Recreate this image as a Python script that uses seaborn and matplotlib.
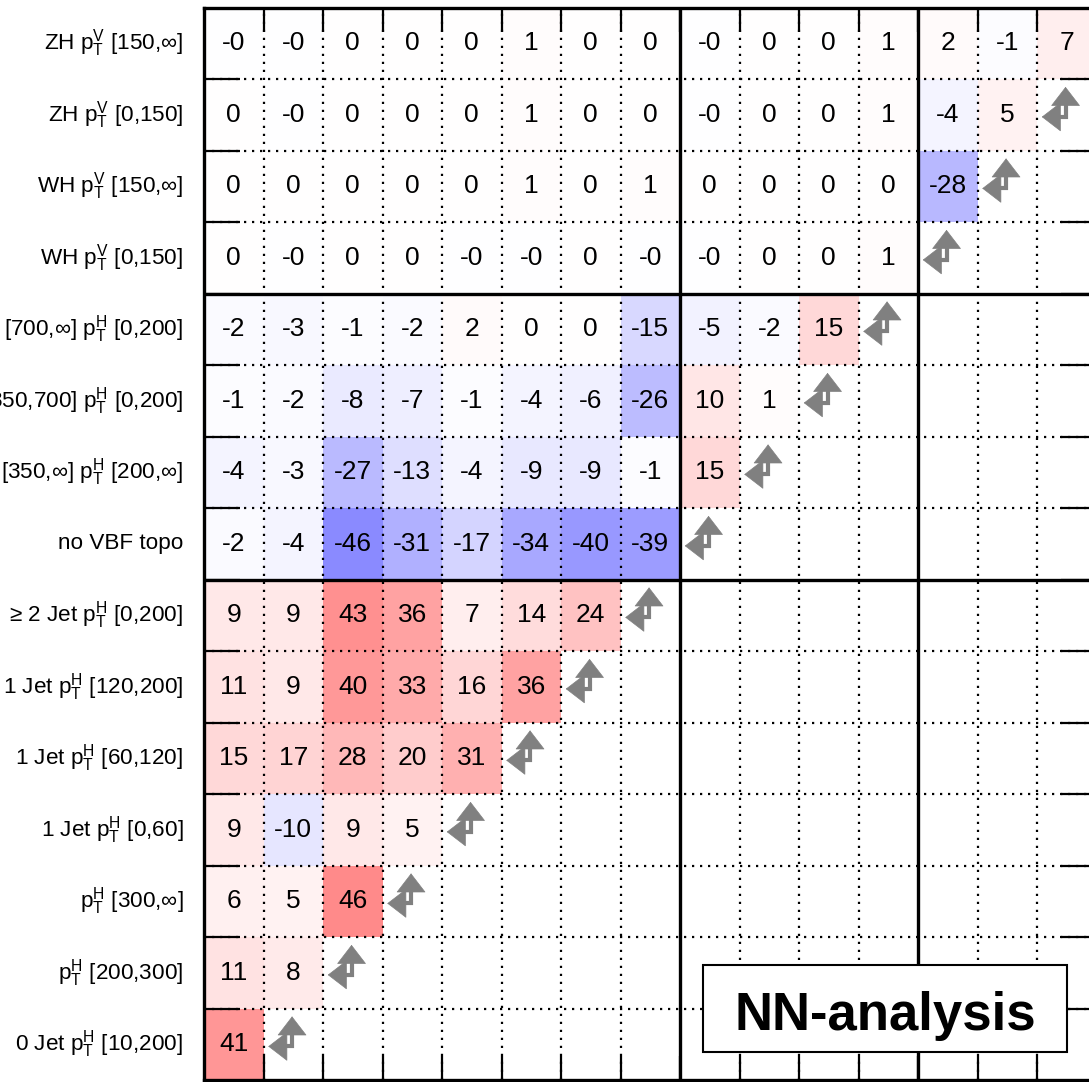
import numpy as np
import pandas as pd
import matplotlib
matplotlib.use("Agg")
import matplotlib.pyplot as plt
from matplotlib.patches import Rectangle
import seaborn as sns

plt.rcParams['font.family'] = ['Liberation Sans', 'DejaVu Sans']
plt.rcParams['mathtext.fontset'] = 'custom'
plt.rcParams['mathtext.rm'] = 'Liberation Sans'
plt.rcParams['mathtext.it'] = 'Liberation Sans:italic'
plt.rcParams['mathtext.bf'] = 'Liberation Sans:bold'
for key in ['text.color', 'axes.labelcolor', 'xtick.color', 'ytick.color', 'axes.edgecolor']:
    plt.rcParams[key] = 'black'

PV = r"$\mathrm{p}_{\mathrm{T}}^{\mathrm{V}}$"
PH = r"$\mathrm{p}_{\mathrm{T}}^{\mathrm{H}}$"

row_labels = [
    f"ZH {PV} [150,∞]",
    f"ZH {PV} [0,150]",
    f"WH {PV} [150,∞]",
    f"WH {PV} [0,150]",
    f"[700,∞] {PH} [0,200]",
    f"[350,700] {PH} [0,200]",
    f"[350,∞] {PH} [200,∞]",
    "no VBF topo",
    f"≥ 2 Jet {PH} [0,200]",
    f"1 Jet {PH} [120,200]",
    f"1 Jet {PH} [60,120]",
    f"1 Jet {PH} [0,60]",
    f"{PH} [300,∞]",
    f"{PH} [200,300]",
    f"0 Jet {PH} [10,200]",
]

row_zh_high = [-0.2, -0.2, 0, 0, 0, 1, 0, 0, -0.2, 0, 0, 1, 2, -1, 7]
row_zh_low = [0, -0.2, 0, 0, 0, 1, 0, 0, -0.2, 0, 0, 1, -4, 5]
row_wh_high = [0, 0, 0, 0, 0, 1, 0, 1, 0, 0, 0, 0, -28]
row_wh_low = [0, -0.2, 0, 0, -0.2, -0.2, 0, -0.2, -0.2, 0, 0, 1]
row_vbf_700 = [-2, -3, -1, -2, 2, 0, 0, -15, -5, -2, 15]
row_vbf_350 = [-1, -2, -8, -7, -1, -4, -6, -26, 10, 1]
row_vbf_hpt = [-4, -3, -27, -13, -4, -9, -9, -1, 15]
row_novbf = [-2, -4, -46, -31, -17, -34, -40, -39]
row_2jet = [9, 9, 43, 36, 7, 14, 24]
row_1jet_120 = [11, 9, 40, 33, 16, 36]
row_1jet_60 = [15, 17, 28, 20, 31]
row_1jet_0 = [9, -10, 9, 5]
row_pt300 = [6, 5, 46]
row_pt200 = [11, 8]
row_0jet = [41]

rows = [row_zh_high, row_zh_low, row_wh_high, row_wh_low, row_vbf_700,
        row_vbf_350, row_vbf_hpt, row_novbf, row_2jet, row_1jet_120,
        row_1jet_60, row_1jet_0, row_pt300, row_pt200, row_0jet]

n = len(row_labels)
mat = np.full((n, n), np.nan)
for r, vals in enumerate(rows):
    mat[r, :len(vals)] = vals
df = pd.DataFrame(mat, index=row_labels)
annot = np.array([["" if np.isnan(v) else f"{v:.0f}" for v in row] for row in mat])

W, H = 1089, 1082
fig = plt.figure(figsize=(W / 100, H / 100), dpi=100)
fig.patch.set_facecolor("white")
left_px, right_px, top_px, bot_px = 204, 1096.5, 7.5, 1080
ax = fig.add_axes([left_px / W, (H - bot_px) / H, (right_px - left_px) / W, (bot_px - top_px) / H])
ax.set_facecolor("white")

sns.heatmap(df, ax=ax, cmap="bwr", vmin=-100, vmax=100, mask=df.isna(),
            annot=annot, fmt="", cbar=False, linewidths=0,
            annot_kws=dict(fontsize=19, color="black"),
            xticklabels=False, yticklabels=True)

ax.set_yticklabels(row_labels, rotation=0, fontsize=16.2, color='black')
ax.set_xticks(np.arange(1, n), minor=True)
ax.set_yticks(np.arange(1, n), minor=True)
ax.tick_params(axis='y', which='major', length=0, pad=15, left=False, right=False)
ax.tick_params(axis='x', which='major', length=0, bottom=False, top=False)
ax.tick_params(which='minor', direction='in', top=True, bottom=True,
               left=True, right=True, width=1.6, color='black')
ax.tick_params(axis='x', which='minor', length=17)
ax.tick_params(axis='y', which='minor', length=26)
for t in ax.xaxis.get_minorticklines() + ax.yaxis.get_minorticklines():
    t.set_zorder(7)
ax.set_xlabel("")
ax.set_ylabel("")

for s in ax.spines.values():
    s.set_visible(True)
    s.set_linewidth(2.4)
    s.set_color("black")
    s.set_zorder(6)

thick_x = [8, 12]
thick_y = [4, 8]
for k in range(1, n):
    if k in thick_x:
        ax.axvline(k, color='black', lw=2.4, zorder=4)
    else:
        ax.axvline(k, color='black', lw=1.6, ls=(0, (1, 2.6)), zorder=3)
    if k in thick_y:
        ax.axhline(k, color='black', lw=2.4, zorder=4)
    else:
        ax.axhline(k, color='black', lw=1.6, ls=(0, (1, 2.6)), zorder=3)

# diagonal arrows
gray = "#808080"
astyle = "-|>,head_length=0.65,head_width=0.5"
for r in range(n):
    c = n - r
    if c >= n:
        continue
    cx, cy = c + 0.48, r + 0.53
    ax.plot([c + 0.30, cx, cx], [cy, cy, r + 0.32], color=gray, lw=3,
            solid_joinstyle='miter', solid_capstyle='butt', zorder=5)
    ax.annotate("", xy=(c + 0.08, cy), xytext=(c + 0.34, cy),
                arrowprops=dict(arrowstyle=astyle, color=gray, lw=0.5,
                                mutation_scale=20, shrinkA=0, shrinkB=0), zorder=5)
    ax.annotate("", xy=(cx, r + 0.11), xytext=(cx, r + 0.34),
                arrowprops=dict(arrowstyle=astyle, color=gray, lw=0.5,
                                mutation_scale=20, shrinkA=0, shrinkB=0), zorder=5)

# label box
bw = right_px - left_px
bh = bot_px - top_px
ax.add_patch(Rectangle(((703 - left_px) / bw, (bot_px - 1052) / bh),
                       364 / bw, 87 / bh, transform=ax.transAxes,
                       facecolor='white', edgecolor='black', lw=1.5, zorder=8))
ax.text((885 - left_px) / bw, (bot_px - 1030) / bh, "NN-analysis",
        transform=ax.transAxes, ha='center', va='baseline', color='black',
        fontsize=38, fontweight='bold', zorder=9)

fig.savefig("out.png", dpi=100, facecolor="white")
